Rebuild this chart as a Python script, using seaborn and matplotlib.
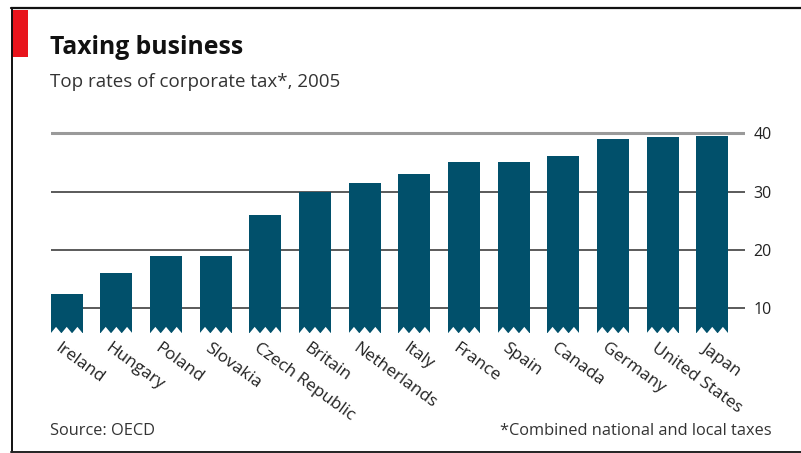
import numpy as np
import pandas as pd
import seaborn as sns
import matplotlib
matplotlib.use("Agg")
import matplotlib.pyplot as plt
from matplotlib.lines import Line2D
from matplotlib.patches import Rectangle, Polygon
import matplotlib.transforms as mtransforms

countries = ["Ireland", "Hungary", "Poland", "Slovakia", "Czech Republic", "Britain",
             "Netherlands", "Italy", "France", "Spain", "Canada", "Germany",
             "United States", "Japan"]
rates = [12.5, 16.0, 19.0, 19.0, 26.0, 30.0, 31.5, 33.0, 35.0, 35.0, 36.1, 39.0, 39.3, 39.5]
yticks = [10, 20, 30, 40]

title = "Taxing business"
subtitle = "Top rates of corporate tax*, 2005"
source = "Source: OECD"
footnote = "*Combined national and local taxes"

BAR = "#01506b"
RED = "#e8141c"
FONT = ["Open Sans", "DejaVu Sans"]

sns.set_theme(style="white")
plt.rcParams["font.family"] = FONT

W, H = 801, 453
fig = plt.figure(figsize=(W / 100, H / 100), dpi=100)
fig.patch.set_facecolor("white")

base = 5.77
ytop = 40.6
ax = fig.add_axes([50.7 / W, 1 - 333 / H, (745 - 50.7) / W, (333 - 129.8) / H])
df = pd.DataFrame({"country": countries, "rate": rates})
width = 0.645
sns.barplot(data=df, x="country", y="rate", color=BAR, width=width, ax=ax,
            saturation=1, zorder=3)
for p, v in zip(ax.patches, rates):
    p.set_y(base)
    p.set_height(v - base)
    p.set_edgecolor("none")

ax.set_xlim(-width / 2, 13.66)
ax.set_ylim(base, ytop)

# zigzag torn bottom
notch = 1.05
for p in ax.patches[:len(rates)]:
    x0, w = p.get_x(), p.get_width()
    for k in range(3):
        a = x0 + k * w / 3
        tri = Polygon([(a, base - 0.05), (a + w / 6, base + notch), (a + w / 3, base - 0.05)],
                      closed=True, facecolor="white", edgecolor="none", zorder=4, clip_on=False)
        ax.add_patch(tri)

# gridlines
for t in yticks:
    if t == 40:
        ax.axhline(t, color="#9a9a9a", lw=2.2, zorder=1)
    else:
        ax.axhline(t, color="#5a5a5a", lw=1.4, zorder=1)

for s in ax.spines.values():
    s.set_visible(False)
ax.set_xlabel("")
ax.set_ylabel("")
ax.yaxis.tick_right()
ax.set_yticks(yticks)
ax.set_yticklabels([str(t) for t in yticks], fontsize=11.5, color="#222222")
ax.tick_params(axis="y", length=0, pad=6)
ax.set_xticks(range(len(countries)))
ax.set_xticklabels(countries, rotation=-36, ha="left", va="top",
                   rotation_mode="anchor", fontsize=12.3, color="#222222")
ax.tick_params(axis="x", length=0, pad=5)
offset = mtransforms.ScaledTranslation(-5 / 100, 0, fig.dpi_scale_trans)
for lab in ax.get_xticklabels():
    lab.set_transform(lab.get_transform() + offset)

# titles
fig.text(50 / W, 1 - 47 / H, title, fontsize=17.8, fontweight="bold", color="#111111",
         ha="left", va="center")
fig.text(50 / W, 1 - 82 / H, subtitle, fontsize=13.5, color="#333333",
         ha="left", va="center")
fig.text(50 / W, 1 - 431 / H, source, fontsize=11.8, color="#333333", ha="left", va="center")
fig.text(772 / W, 1 - 431 / H, footnote, fontsize=11.8, color="#333333", ha="right", va="center")

# red tab and frame
fig.add_artist(Rectangle((12 / W, 1 - 57 / H), 16 / W, 47 / H, transform=fig.transFigure,
                         facecolor=RED, edgecolor="none"))
fig.add_artist(Line2D([11 / W, 1], [1 - 8 / H, 1 - 8 / H], transform=fig.transFigure,
                      color="#111111", lw=1.6))
fig.add_artist(Line2D([11.5 / W, 11.5 / W], [1 - 8 / H, 1 - 451.5 / H], transform=fig.transFigure,
                      color="#111111", lw=1.4))
fig.add_artist(Line2D([11 / W, 1], [1 - 451.5 / H, 1 - 451.5 / H], transform=fig.transFigure,
                      color="#222222", lw=1.4))

fig.savefig("out.png", dpi=100, facecolor="white")
